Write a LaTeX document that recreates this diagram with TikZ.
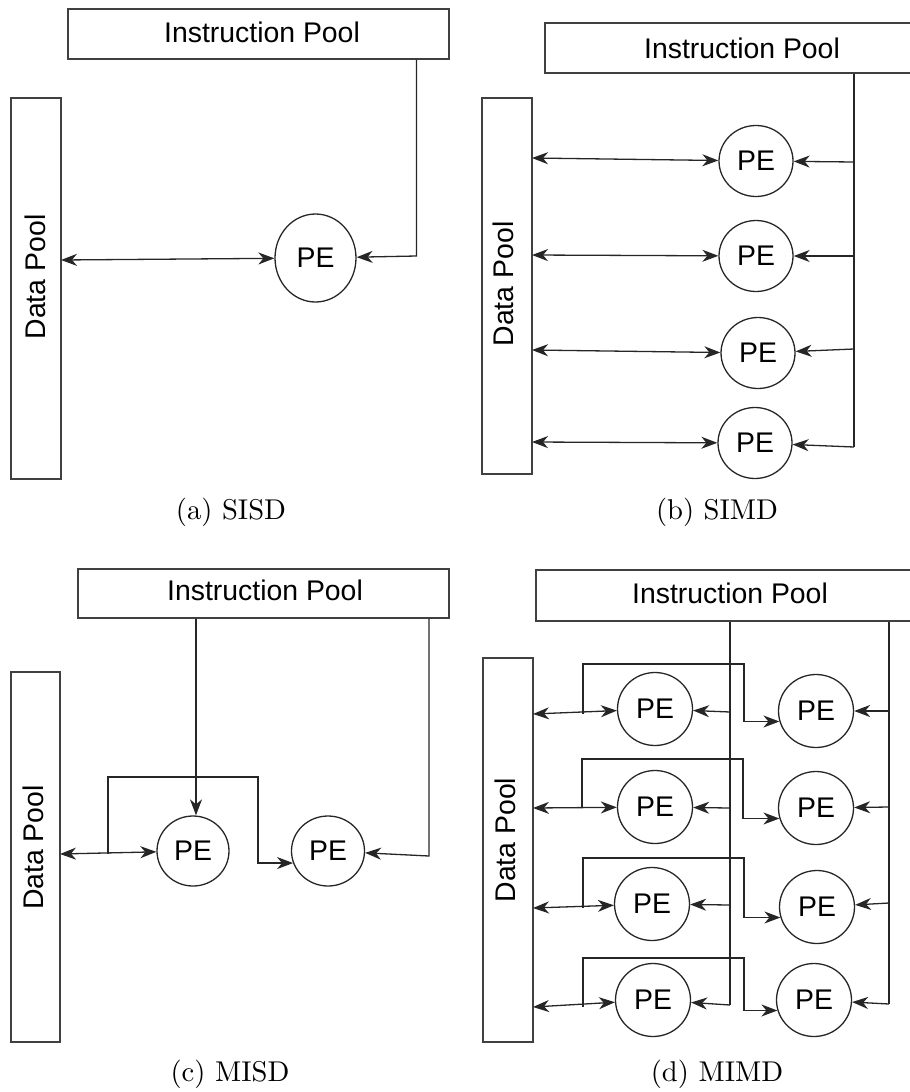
\documentclass[tikz,border=0pt]{standalone}
\usepackage{fontspec}
\usepackage{graphicx}
\newfontfamily\arialf{Liberation Sans}
\usetikzlibrary{shapes.geometric,arrows.meta}
\begin{document}
\begin{tikzpicture}[x=1pt,y=-1pt,
  pool/.style={draw=black!75,line width=1.4pt,inner sep=0pt,rectangle},
  pooltext/.style={font=\arialf\fontsize{28.4}{34}\selectfont,inner sep=0pt},
  pe/.style={draw=black!85,line width=1.3pt,ellipse,inner sep=0pt,font=\arialf\fontsize{28.4}{34}\selectfont},
  conn/.style={draw=black!85,line width=1.3pt},
  >={Stealth[length=16pt,width=12pt,inset=5pt]},
  subcap/.style={anchor=base,inner sep=0pt}
]
\path[use as bounding box] (0,0) rectangle (910,1092);

% ---------------- (a) SISD ----------------
\node[pool,minimum width=381pt,minimum height=50pt] (ipA) at (258.5,34) {};
\node[pooltext] (ipAt) at (262,32) {Instruction Pool};
\node[pool,minimum width=50pt,minimum height=381pt] (dpA) at (36,288.5) {};
\node[pooltext,rotate=90] (dpAt) at (35,277) {Data Pool};
\node[pe,minimum width=81pt,minimum height=88pt] (peA) at (315.5,258) {PE};
\coordinate (a1) at (416.5,256);
\draw[conn,->] (ipA.south -| a1) -- (a1) -- (peA);
\coordinate (a2) at (61,260);
\draw[conn,<->] (a2) -- (peA);
\node[subcap] (capA) at (231,519) {\scalebox{2.86}{(a) SISD}};

% ---------------- (b) SIMD ----------------
\node[pool,minimum width=367pt,minimum height=50pt] (ipB) at (728.5,48) {};
\node[pooltext] (ipBt) at (742,48) {Instruction Pool};
\node[pool,minimum width=50pt,minimum height=376pt] (dpB) at (507,286) {};
\node[pooltext,rotate=90] (dpBt) at (503,284) {Data Pool};
\foreach \i/\x/\y in {1/756/161,2/756/256,3/758/353,4/755/443}{
  \node[pe,minimum width=74pt,minimum height=71pt] (peB\i) at (\x,\y) {PE};
}
\coordinate (b0) at (854,447);
\draw[conn] (ipB.south -| b0) -- (b0);
\foreach \i/\yr/\yl in {1/162/158,2/256/255,3/349/350,4/447/442}{
  \coordinate (br\i) at (854,\yr);
  \coordinate (bl\i) at (532,\yl);
  \draw[conn,->] (br\i) -- (peB\i);
  \draw[conn,<->] (bl\i) -- (peB\i);
}
\node[subcap] (capB) at (717,519) {\scalebox{2.86}{(b) SIMD}};

% ---------------- (c) MISD ----------------
\node[pool,minimum width=371pt,minimum height=49pt] (ipC) at (263.5,593.5) {};
\node[pooltext] (ipCt) at (265,590) {Instruction Pool};
\node[pool,minimum width=49pt,minimum height=370pt] (dpC) at (35.5,857) {};
\node[pooltext,rotate=90] (dpCt) at (33,847.5) {Data Pool};
\node[pe,minimum width=72pt,minimum height=70pt] (peC1) at (193,851) {PE};
\node[pe,minimum width=73pt,minimum height=70pt] (peC2) at (328,851) {PE};
\coordinate (c1) at (196,700);
\draw[conn,->] (ipC.south -| c1) -- (c1 |- peC1.north);
\coordinate (c2) at (429,856);
\draw[conn,->] (ipC.south -| c2) -- (c2) -- (peC2);
\coordinate (c3) at (60,854);
\draw[conn,<->] (c3) -- (peC1);
\coordinate (c4) at (108,854);
\coordinate (c6) at (258,777);
\draw[conn,->] (c4) |- (c6) |- (peC2.199);
\node[subcap] (capC) at (230,1081) {\scalebox{2.86}{(c) MISD}};

% ---------------- (d) MIMD ----------------
\node[pool,minimum width=376pt,minimum height=51pt] (ipD) at (724,595.5) {};
\node[pooltext] (ipDt) at (730,593) {Instruction Pool};
\node[pool,minimum width=50pt,minimum height=384pt] (dpD) at (508,850) {};
\node[pooltext,rotate=90] (dpDt) at (505,840) {Data Pool};
\foreach \i/\xl/\yl/\xr/\yr in {1/655/709/816/711,2/655/807/816/808,3/652/904/817/907,4/653/1000/814/1000}{
  \node[pe,minimum width=75pt,minimum height=73pt] (peL\i) at (\xl,\yl) {PE};
  \node[pe,minimum width=75pt,minimum height=73pt] (peR\i) at (\xr,\yr) {PE};
}
\coordinate (d1) at (730,1005);
\coordinate (d2) at (889,1004);
\draw[conn] (ipD.south -| d1) -- (d1);
\draw[conn] (ipD.south -| d2) -- (d2);
\foreach \i/\ya/\yb/\yc/\xs/\yt/\xt in {1/712/711/714/583/664/744,2/808/807/808/582/759/743,3/905/903/908/583/858/744,4/1005/1004/1007/583/958/744}{
  \coordinate (dl\i) at (730,\ya);
  \coordinate (dr\i) at (889,\yb);
  \coordinate (dd\i) at (533,\yc);
  \coordinate (ds\i) at (\xs,\yc);
  \coordinate (dt\i) at (\xt,\yt);
  \draw[conn,->] (dl\i) -- (peL\i);
  \draw[conn,->] (dr\i) -- (peR\i);
  \draw[conn,<->] (dd\i) -- (peL\i);
  \draw[conn,->] (ds\i) |- (dt\i) |- (peR\i.196);
}
\node[subcap] (capD) at (717,1081) {\scalebox{2.86}{(d) MIMD}};
\end{tikzpicture}
\end{document}
